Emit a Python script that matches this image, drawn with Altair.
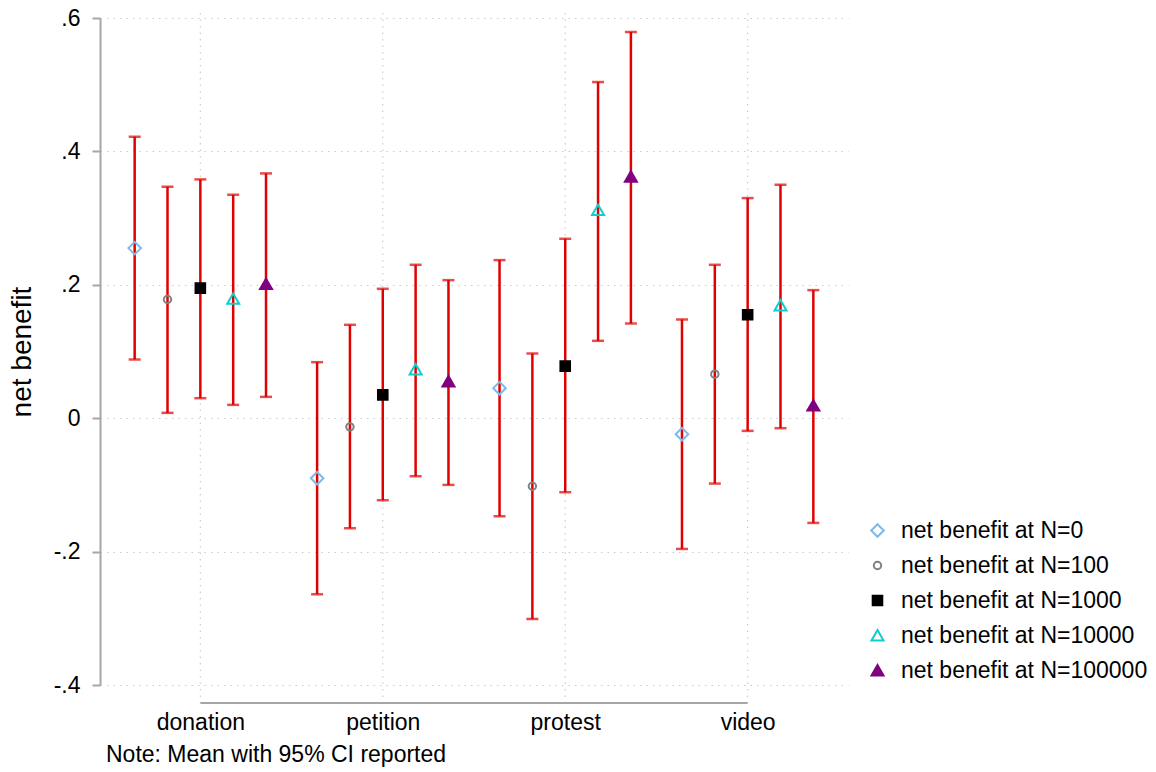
import altair as alt
import pandas as pd

FONT = "Liberation Sans"
RED = "#e00000"
GRID = "#cccccc"
AXISGREY = "#a6a6a6"

categories = ["donation", "petition", "protest", "video"]
series = ["net benefit at N=0", "net benefit at N=100", "net benefit at N=1000",
          "net benefit at N=10000", "net benefit at N=100000"]

# values per series, across categories (donation, petition, protest, video)
mean_N0 = [0.255, -0.090, 0.045, -0.024]
mean_N100 = [0.178, -0.013, -0.102, 0.066]
mean_N1000 = [0.195, 0.035, 0.078, 0.155]
mean_N10000 = [0.179, 0.073, 0.312, 0.169]
mean_N100000 = [0.201, 0.055, 0.362, 0.019]

lo_N0 = [0.088, -0.264, -0.147, -0.196]
lo_N100 = [0.008, -0.165, -0.301, -0.098]
lo_N1000 = [0.030, -0.123, -0.111, -0.019]
lo_N10000 = [0.020, -0.087, 0.116, -0.015]
lo_N100000 = [0.032, -0.100, 0.142, -0.157]

hi_N0 = [0.422, 0.084, 0.237, 0.148]
hi_N100 = [0.347, 0.140, 0.097, 0.230]
hi_N1000 = [0.358, 0.194, 0.269, 0.330]
hi_N10000 = [0.335, 0.230, 0.504, 0.350]
hi_N100000 = [0.367, 0.207, 0.579, 0.192]

y_ticks = [-0.4, -0.2, 0.0, 0.2, 0.4, 0.6]
note = "Note: Mean with 95% CI reported"

means = [mean_N0, mean_N100, mean_N1000, mean_N10000, mean_N100000]
los = [lo_N0, lo_N100, lo_N1000, lo_N10000, lo_N100000]
his = [hi_N0, hi_N100, hi_N1000, hi_N10000, hi_N100000]

rows = []
for si, s in enumerate(series):
    for ci, c in enumerate(categories):
        rows.append({"category": c, "ci": ci + 1, "series": s, "si": si,
                     "mean": means[si][ci], "lo": los[si][ci], "hi": his[si][ci]})
df = pd.DataFrame(rows)

W, H = 748, 667

# marker outlines (unit space, scaled by the mark size)
DIAMOND = "M-1.05,0L0,-1.05L1.05,0L0,1.05Z"
CIRCLE = "M0.62,0A0.62,0.62 0 1,1 -0.62,0A0.62,0.62 0 1,1 0.62,0Z"
SQUARE = "M-0.8,-0.8H0.8V0.8H-0.8Z"
TRIANGLE = "M0,-0.9L1,0.83L-1,0.83Z"

xscale = alt.Scale(domain=[0.45, len(categories) + 0.55], nice=False, zero=False)
yscale = alt.Scale(domain=[y_ticks[0], y_ticks[-1]], nice=False, zero=False)

cat_expr = "[" + ",".join("'" + c + "'" for c in categories) + "][datum.value - 1]"
xaxis = alt.Axis(values=list(range(1, len(categories) + 1)), labelExpr=cat_expr,
                 domain=False, ticks=False, grid=False, offset=18, title=None,
                 labelFontSize=23, labelPadding=8, labelColor="black", labelFont=FONT)
yaxis = alt.Axis(values=y_ticks,
                 labelExpr="abs(datum.value) < 1e-9 ? '0' : (datum.value < 0 ? '-' : '') + replace(format(abs(datum.value), '.1f'), '0.', '.')",
                 grid=True, gridColor=GRID, gridDash=[1.5, 5], gridWidth=1.2,
                 domainColor=AXISGREY, domainWidth=2, tickColor=AXISGREY, tickSize=8, tickWidth=2,
                 labelFontSize=23, labelPadding=12, labelColor="black", labelFont=FONT,
                 title="net benefit", titleFontSize=28, titleFontWeight="normal",
                 titleColor="black", titleFont=FONT, titlePadding=17)

x_enc = alt.X("xpos:Q", scale=xscale, axis=xaxis)

base = alt.Chart(df).transform_calculate(xpos="datum.ci + (datum.si - 2) * 0.18")

grid_df = pd.DataFrame({"ci": list(range(1, len(categories) + 1))})
vgrid = alt.Chart(grid_df).mark_rule(color=GRID, strokeDash=[1.5, 5], strokeWidth=1.2).encode(
    x=alt.X("ci:Q", scale=xscale, axis=xaxis),
    y=alt.value(-18), y2=alt.value(H + 18))

dom_df = pd.DataFrame({"a": [1], "b": [len(categories)]})
xdomain = alt.Chart(dom_df).mark_rule(color=AXISGREY, strokeWidth=2).encode(
    x=alt.X("a:Q", scale=xscale, axis=xaxis), x2="b:Q", y=alt.value(H + 18))

bars = base.mark_rule(color=RED, strokeWidth=2.5).encode(
    x=x_enc, y=alt.Y("lo:Q", scale=yscale, axis=yaxis), y2="hi:Q")
cap_lo = base.mark_tick(orient="horizontal", color=RED, size=12, thickness=2.5).encode(
    x=x_enc, y=alt.Y("lo:Q", scale=yscale, axis=yaxis))
cap_hi = base.mark_tick(orient="horizontal", color=RED, size=12, thickness=2.5).encode(
    x=x_enc, y=alt.Y("hi:Q", scale=yscale, axis=yaxis))

MSIZE = 144
leg = alt.Legend(title=None, orient="none", legendX=766, legendY=501,
                 labelFontSize=23, labelFont=FONT, labelColor="black", labelLimit=400,
                 rowPadding=11, labelOffset=12, padding=0, symbolStrokeWidth=2,
                 symbolSize=MSIZE)

points = base.mark_point(filled=False, strokeWidth=2, opacity=1, size=MSIZE).encode(
    x=x_enc,
    y=alt.Y("mean:Q", scale=yscale, axis=yaxis),
    shape=alt.Shape("series:N", sort=series, legend=leg,
                    scale=alt.Scale(domain=series,
                                    range=[DIAMOND, CIRCLE, SQUARE, TRIANGLE, TRIANGLE])),
    stroke=alt.Stroke("series:N", sort=series, legend=leg,
                      scale=alt.Scale(domain=series,
                                      range=["#80b8e8", "#808080", "#000000", "#10cccc", "#800080"])),
    fill=alt.Fill("series:N", sort=series, legend=leg,
                  scale=alt.Scale(domain=series,
                                  range=["transparent", "transparent", "#000000", "transparent", "#800080"])),
)

note_df = pd.DataFrame({"t": [note]})
note_text = alt.Chart(note_df).mark_text(align="left", baseline="middle", fontSize=23,
                                         font=FONT, color="black").encode(
    text="t:N", x=alt.value(6), y=alt.value(H + 70))

chart = alt.layer(vgrid, xdomain, bars, cap_lo, cap_hi, points, note_text).properties(
    width=W, height=H,
    autosize=alt.AutoSizeParams(type="none"),
    padding={"left": 92, "top": 10, "right": 300, "bottom": 86},
).configure(font=FONT).configure_view(stroke=None)

chart.save("out.html", embed_options={"renderer": "svg", "actions": False})
